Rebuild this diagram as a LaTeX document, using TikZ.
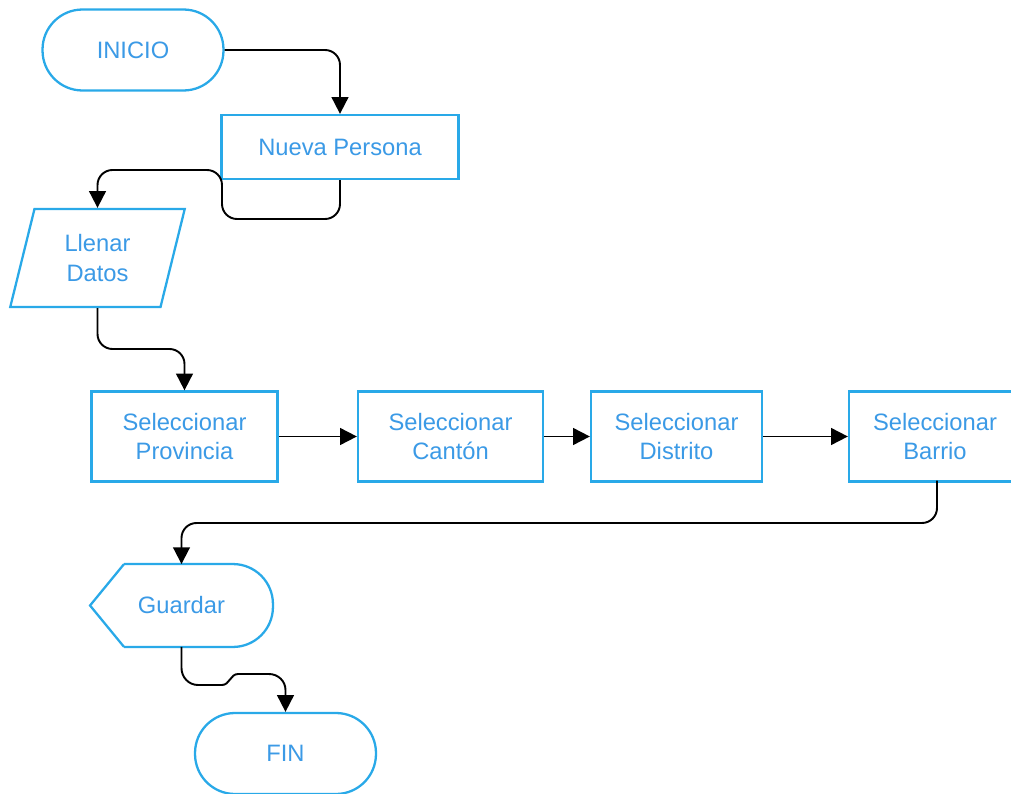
\documentclass[tikz,border=0pt]{standalone}
\usepackage{fontspec}
\setmainfont{Liberation Sans}
\usetikzlibrary{shapes.geometric,arrows.meta}
\definecolor{flowblue}{HTML}{29A9E8}
\definecolor{flowtext}{HTML}{3B9AE6}
\tikzset{
	box/.style={draw=flowblue,line width=1.3pt,fill=white,text=flowtext,
		align=center,font=\fontsize{13.5}{17}\selectfont,inner sep=0pt},
	terminal/.style={box,rectangle,rounded corners=0.8cm,
		minimum width=3.62cm,minimum height=1.62cm},
	process/.style={box,rectangle,minimum height=1.8cm},
	iobox/.style={box,trapezium,trapezium left angle=75,trapezium right angle=105,
		trapezium stretches=true,minimum width=3.5cm,minimum height=1.96cm},
	flow/.style={->,rounded corners=0.3cm}
}
\begin{document}
\begin{tikzpicture}[>={Triangle[length=9.5pt,width=9.5pt]},line width=1.1pt,x=0.02cm,y=-0.02cm]
\useasboundingbox (0,0) rectangle (1011,794);
% nodes
\node[terminal] (inicio) at (133,50) {INICIO};
\node[process,minimum width=4.74cm,minimum height=1.28cm] (nueva) at (340,147) {Nueva Persona};
\node[iobox] (llenar) at (97.5,258) {Llenar\\Datos};
\node[process,minimum width=3.72cm] (prov) at (184.5,436.5) {Seleccionar\\Provincia};
\node[process,minimum width=3.7cm] (canton) at (450.5,436.5) {Seleccionar\\Cantón};
\node[process,minimum width=3.42cm] (distrito) at (676.5,436.5) {Seleccionar\\Distrito};
\node[process,minimum width=3.44cm] (barrio) at (935,436.5) {Seleccionar\\Barrio};
% display shape for Guardar
\node[inner sep=0pt,minimum width=3.62cm,minimum height=1.62cm,
	text=flowtext,font=\fontsize{13.5}{17}\selectfont] (guardar) at (181.5,605.5) {Guardar};
\draw[draw=flowblue,line width=1.3pt,rounded corners=0.8cm]
	(guardar.north west) ++(34,0) -- (guardar.north east) -- (guardar.south east)
	-- ([xshift=34*0.02cm]guardar.south west);
\draw[draw=flowblue,line width=1.3pt]
	([xshift=34*0.02cm]guardar.north west) -- (guardar.west)
	-- ([xshift=34*0.02cm]guardar.south west);
\node[terminal] (fin) at (285.5,753.5) {FIN};
% connectors
\draw[flow] (inicio.east) -| (nueva.north);
\draw[flow] (nueva.south) |- (222,219) -- (222,170) -| (llenar.north);
\draw[flow] (llenar.south) |- (184.5,349) -- (prov.north);
\draw[->] (prov.east) -- (canton.west);
\draw[->] (canton.west -| canton.east) -- (distrito.west);
\draw[->] (distrito.east) -- (barrio.west);
\draw[flow] (937,480.5) |- (181.5,523) -- (guardar.north);
\draw[->] (guardar.south) -- (181.5,668) to[out=-90,in=180] (198,685) -- (222,685)
	to[out=0,in=180] (238,674) -- (269,674) to[out=0,in=90] (285.5,690) -- (fin.north);
\end{tikzpicture}
\end{document}
